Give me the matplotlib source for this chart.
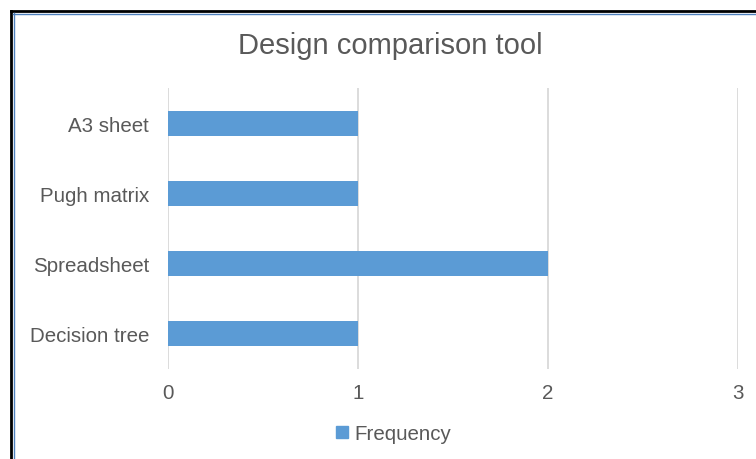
import matplotlib.pyplot as plt
from matplotlib.lines import Line2D
from matplotlib.patches import Patch

plt.rcParams['font.family'] = ['Liberation Sans', 'DejaVu Sans']

# data
tools = ['Decision tree', 'Spreadsheet', 'Pugh matrix', 'A3 sheet']
frequency = [1, 2, 1, 1]
x_ticks = [0, 1, 2, 3]

bar_color = '#5B9BD5'
text_color = '#595959'
grid_color = '#D9D9D9'

fig = plt.figure(figsize=(7.56, 4.60), dpi=100)
W, H = 756, 460
ax = fig.add_axes([168 / W, 1 - 370 / H, (738 - 168) / W, (370 - 89) / H])

ax.barh(range(len(tools)), frequency, height=0.355, color=bar_color, zorder=3)
ax.set_ylim(-0.5, len(tools) - 0.5)
ax.set_xlim(0, 3)
ax.set_xticks(x_ticks)
ax.set_xticklabels([str(t) for t in x_ticks])
ax.set_yticks(range(len(tools)))
ax.set_yticklabels(tools)
ax.grid(axis='x', color=grid_color, linewidth=1.3, zorder=0)
for s in ax.spines.values():
    s.set_visible(False)
ax.tick_params(length=0, labelsize=14.8, colors=text_color)
ax.tick_params(axis='x', pad=10)
ax.tick_params(axis='y', pad=13.5)

fig.text(390 / W, 1 - 46 / H, 'Design comparison tool', ha='center', va='center',
         fontsize=21, color=text_color)

fig.legend(handles=[Patch(color=bar_color, label='Frequency')], loc='center',
           bbox_to_anchor=(394 / W, 1 - 435 / H), frameon=False, fontsize=14.8,
           handlelength=0.55, handleheight=0.55, handletextpad=0.35,
           labelcolor=text_color)

# chart frame (top and left edges visible)
fig.add_artist(Line2D([11 / W, 1], [1 - 12 / H, 1 - 12 / H], color='black', linewidth=2))
fig.add_artist(Line2D([11 / W, 11 / W], [0, 1 - 12 / H], color='black', linewidth=2))
fig.add_artist(Line2D([13 / W, 1], [1 - 14.5 / H, 1 - 14.5 / H], color='#4F81BD', linewidth=1))
fig.add_artist(Line2D([13.5 / W, 13.5 / W], [0, 1 - 14 / H], color='#4F81BD', linewidth=1))

fig.savefig('out.png', dpi=100)
